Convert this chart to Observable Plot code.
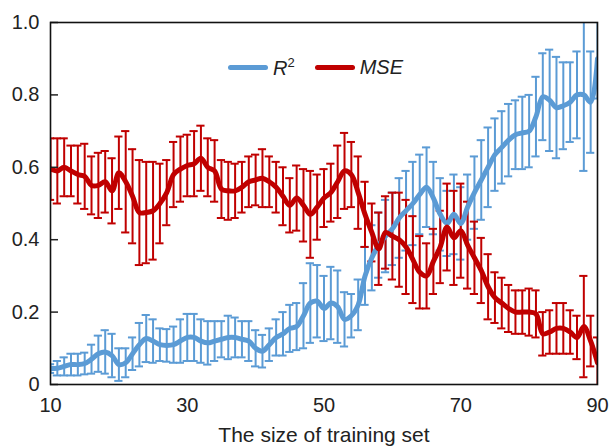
<!DOCTYPE html>
<html>
<head>
<meta charset="utf-8">
<script src="https://cdn.jsdelivr.net/npm/d3@7"></script>
<script src="https://cdn.jsdelivr.net/npm/@observablehq/plot@0.6"></script>
<style>
  html, body { margin: 0; padding: 0; background: #fff; }
  #wrap { position: relative; width: 609px; height: 447px; font-family: "Liberation Sans", Arial, sans-serif; }
  #legend { position: absolute; left: 228px; top: 55px; display: flex; align-items: center; font-size: 20px; color: #222; white-space: nowrap; }
  .sw { display: inline-block; width: 40px; height: 5px; border-radius: 3px; }
  .lab { font-style: italic; margin-left: 5px; margin-right: 20px; }
  .lab sup { font-style: normal; font-size: 13px; }
</style>
</head>
<body>
<div id="wrap">
  <div id="chart"></div>
  <div id="legend">
    <span class="sw" style="background:#5b9bd5"></span><span class="lab">R<sup>2</sup></span>
    <span class="sw" style="background:#c00000"></span><span class="lab">MSE</span>
  </div>
</div>
<script>
// training set sizes
const sizes = d3.range(10, 91);

// R² mean values (x = 10..90)
const r2 = [
  0.044, 0.045, 0.050, 0.055, 0.055, 0.058, 0.070, 0.085, 0.090, 0.080,
  0.055, 0.060, 0.085, 0.110, 0.127, 0.120, 0.110, 0.108, 0.110, 0.120,
  0.130, 0.130, 0.120, 0.115, 0.120, 0.125, 0.130, 0.130, 0.125, 0.120,
  0.100, 0.092, 0.110, 0.130, 0.140, 0.155, 0.160, 0.190, 0.225, 0.230,
  0.210, 0.225, 0.215, 0.180, 0.190, 0.220, 0.300, 0.350, 0.385, 0.410,
  0.430, 0.460, 0.480, 0.500, 0.525, 0.545, 0.515, 0.470, 0.445, 0.470,
  0.445, 0.490, 0.530, 0.565, 0.600, 0.635, 0.655, 0.675, 0.690, 0.695,
  0.700, 0.740, 0.795, 0.785, 0.765, 0.770, 0.780, 0.800, 0.800, 0.780,
  0.900
];
// R² error half-widths
const r2Err = [
  0.012, 0.020, 0.025, 0.030, 0.030, 0.030, 0.040, 0.050, 0.060, 0.060,
  0.045, 0.040, 0.045, 0.060, 0.065, 0.060, 0.045, 0.045, 0.050, 0.060,
  0.065, 0.065, 0.060, 0.060, 0.055, 0.050, 0.060, 0.055, 0.050, 0.055,
  0.050, 0.045, 0.045, 0.050, 0.060, 0.065, 0.065, 0.090, 0.110, 0.100,
  0.090, 0.100, 0.100, 0.075, 0.060, 0.070, 0.080, 0.090, 0.090, 0.100,
  0.100, 0.110, 0.110, 0.115, 0.110, 0.110, 0.100, 0.100, 0.090, 0.110,
  0.100, 0.090, 0.100, 0.110, 0.110, 0.100, 0.100, 0.100, 0.095, 0.100,
  0.100, 0.110, 0.120, 0.140, 0.140, 0.120, 0.110, 0.120, 0.210, 0.140,
  0.110
];

// MSE mean values (x = 10..90)
const mse = [
  0.595, 0.590, 0.600, 0.590, 0.580, 0.575, 0.550, 0.550, 0.560, 0.535,
  0.585, 0.560, 0.520, 0.475, 0.475, 0.480, 0.500, 0.530, 0.580, 0.595,
  0.605, 0.610, 0.625, 0.600, 0.590, 0.540, 0.535, 0.535, 0.545, 0.560,
  0.565, 0.570, 0.560, 0.545, 0.520, 0.495, 0.515, 0.495, 0.470, 0.490,
  0.515, 0.530, 0.560, 0.590, 0.580, 0.530, 0.470, 0.420, 0.375, 0.420,
  0.410, 0.400, 0.380, 0.345, 0.310, 0.300, 0.340, 0.380, 0.435, 0.405,
  0.425, 0.385, 0.350, 0.315, 0.270, 0.240, 0.225, 0.210, 0.200, 0.200,
  0.200, 0.195, 0.140, 0.145, 0.155, 0.155, 0.145, 0.130, 0.160, 0.120,
  0.060
];
// MSE error half-widths
const mseErr = [
  0.085, 0.090, 0.080, 0.070, 0.080, 0.090, 0.080, 0.090, 0.085, 0.090,
  0.100, 0.140, 0.130, 0.145, 0.140, 0.135, 0.110, 0.090, 0.090, 0.090,
  0.085, 0.090, 0.090, 0.080, 0.085, 0.080, 0.080, 0.075, 0.070, 0.070,
  0.070, 0.080, 0.070, 0.070, 0.080, 0.075, 0.090, 0.100, 0.120, 0.090,
  0.080, 0.080, 0.100, 0.105, 0.090, 0.100, 0.090, 0.080, 0.100, 0.100,
  0.120, 0.130, 0.130, 0.120, 0.100, 0.090, 0.090, 0.100, 0.120, 0.130,
  0.130, 0.120, 0.100, 0.090, 0.090, 0.070, 0.070, 0.065, 0.060, 0.060,
  0.065, 0.065, 0.060, 0.060, 0.070, 0.070, 0.060, 0.060, 0.140, 0.070,
  0.070
];

const xTicks = [10, 30, 50, 70, 90];
const yTicks = [0, 0.2, 0.4, 0.6, 0.8, 1.0];

const BLUE = "#5b9bd5", RED = "#c00000";
const capHalf = 0.6;

const r2Data = sizes.map((x, i) => ({x, y: r2[i], lo: r2[i] - r2Err[i], hi: r2[i] + r2Err[i]}));
const mseData = sizes.map((x, i) => ({x, y: mse[i], lo: mse[i] - mseErr[i], hi: mse[i] + mseErr[i]}));

function errorBars(data, color) {
  return [
    Plot.ruleX(data, {x: "x", y1: "lo", y2: "hi", stroke: color, strokeWidth: 2, clip: true}),
    Plot.ruleY(data, {y: "hi", x1: d => d.x - capHalf, x2: d => d.x + capHalf, stroke: color, strokeWidth: 2, clip: true}),
    Plot.ruleY(data, {y: "lo", x1: d => d.x - capHalf, x2: d => d.x + capHalf, stroke: color, strokeWidth: 2, clip: true})
  ];
}

const chart = Plot.plot({
  width: 609,
  height: 447,
  marginLeft: 50,
  marginRight: 12,
  marginTop: 22,
  marginBottom: 63,
  style: {fontFamily: "Liberation Sans, Arial, sans-serif", fontSize: "20px", color: "#222", background: "#fff"},
  x: {domain: [10, 90]},
  y: {domain: [0, 1]},
  marks: [
    ...errorBars(r2Data, BLUE),
    ...errorBars(mseData, RED),
    Plot.line(r2Data, {x: "x", y: "y", stroke: BLUE, strokeWidth: 5, curve: "catmull-rom", clip: true}),
    Plot.line(mseData, {x: "x", y: "y", stroke: RED, strokeWidth: 5, curve: "catmull-rom", clip: true}),
    Plot.axisY({ticks: yTicks, tickSize: -8, tickPadding: 19, stroke: "#222", strokeWidth: 1.5, tickFormat: d => d === 0 ? "0" : d.toFixed(1), label: null, fontSize: 20}),
    Plot.axisX({ticks: xTicks, tickSize: 0, tickPadding: 13, label: null, fontSize: 20, tickFormat: d => String(d)}),
    Plot.text(["The size of training set"], {frameAnchor: "bottom", dy: 57, fontSize: 21, fill: "#222"}),
    Plot.frame({stroke: "#111", strokeWidth: 1.6})
  ]
});
document.getElementById("chart").appendChild(chart);
</script>
</body>
</html>
